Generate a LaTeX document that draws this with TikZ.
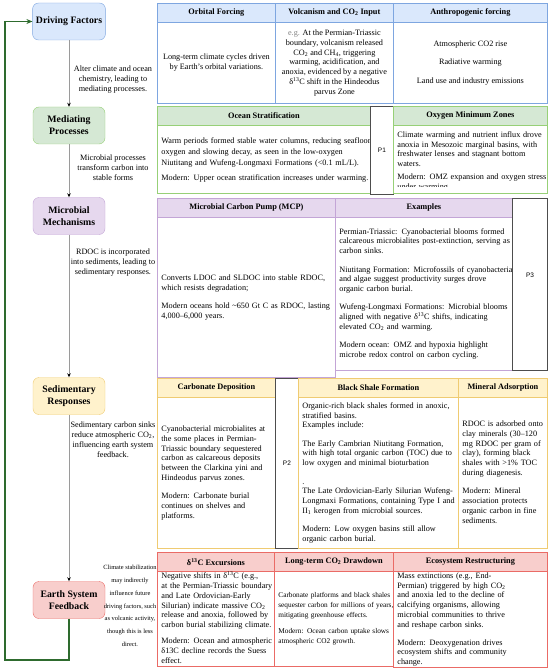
\documentclass[tikz,border=0pt]{standalone}
\usepackage{fontspec}
\setmainfont{Liberation Serif}
\setsansfont{Liberation Sans}
\usetikzlibrary{arrows.meta,positioning}
% colours of the five levels
\definecolor{bluefill}{HTML}{DAE8FC}
\definecolor{blueline}{HTML}{7EA6E0}
\definecolor{greenfill}{HTML}{D5E8D4}
\definecolor{greenline}{HTML}{97D077}
\definecolor{purplefill}{HTML}{E6D8EE}
\definecolor{purpleline}{HTML}{C3A5D6}
\definecolor{yellowfill}{HTML}{FFF2CC}
\definecolor{yellowline}{HTML}{EFCB72}
\definecolor{redfill}{HTML}{F8CECC}
\definecolor{redline}{HTML}{EA6B66}
\definecolor{pline}{HTML}{4D4D4D}
\definecolor{arrowgray}{HTML}{9A9A9A}
\definecolor{loopgreen}{HTML}{2E6B2E}
\newcommand\boxfont{\bfseries\fontsize{9.8}{12}\selectfont}
\newcommand\hdrfont{\bfseries\fontsize{8.3}{10}\selectfont}
\newcommand\cellfont{\fontsize{8.2}{9.8}\selectfont}
\newcommand\lblfont{\fontsize{8.2}{10}\selectfont}
% lines of a cell, kept as typed
\newcommand\cellrows[1]{\noindent\begin{tabular}{@{}l@{}}#1\end{tabular}}
\tikzset{
    %Define style for level boxes
    flowbox/.style={
           rectangle,
           rounded corners=6pt,
           draw=#1line, fill=#1fill,
           minimum width=72pt,
           minimum height=37pt,
           align=center,
           font=\boxfont},
    %Define style for table headers
    hdr/.style={
           rectangle,
           anchor=north west,
           draw=#1line, fill=#1fill, line width=0.8pt,
           minimum height=19pt,
           inner sep=0pt,
           font=\hdrfont},
    %Define style for table cells
    cell/.style={
           rectangle,
           anchor=north west,
           draw=#1line, line width=0.8pt,
           inner xsep=4pt, inner ysep=0pt,
           align=left,
           font=\cellfont},
    pbox/.style={
           rectangle,
           anchor=north west,
           draw=pline, fill=white, line width=0.8pt,
           inner sep=0pt,
           font=\sffamily\fontsize{6.5}{8}\selectfont},
    lbl/.style={
           align=center,
           inner sep=0pt,
           font=\lblfont},
    % Define arrow styles
    flowarrow/.style={
           draw=arrowgray, line width=0.9pt,
           -{Stealth[length=4pt,width=3.5pt,black]}},
    feedback/.style={
           draw=loopgreen, line width=1.5pt,
           -{Stealth[length=6pt,width=5pt]}}
}
\begin{document}
\begin{tikzpicture}[x=1pt,y=-1pt]
\useasboundingbox (0,0) rectangle (550,668);
 %level boxes
\node[flowbox=blue] (df) at (69,21.5) {Driving Factors};
\node[flowbox=green] (mp) at (69,125.5) {Mediating\\Processes};
\node[flowbox=purple] (mm) at (69,216) {Microbial\\Mechanisms};
\node[flowbox=yellow] (sr) at (69,396) {Sedimentary\\Responses};
\node[flowbox=red] (esf) at (69,600) {Earth System\\Feedback};
 %links between levels
\draw[flowarrow] (df) -- (mp);
\draw[flowarrow] (mp) -- (mm);
\draw[flowarrow] (mm) -- (sr);
\draw[flowarrow] (sr) -- (esf);
\coordinate (loopcorner) at (5,660);
\draw[feedback] (esf.south) |- (loopcorner) |- (df.west);
\node[lbl] (l1) at (113,80) {Alter climate and ocean\\chemistry, leading to\\mediating processes.};
\node[lbl] (l2) at (113,168) {Microbial processes\\transform carbon into\\stable forms};
\node[lbl] (l3) at (113,263) {RDOC is incorporated\\into sediments, leading to\\sedimentary responses.};
\node[lbl] (l4) at (113,440) {Sedimentary carbon sinks\\reduce atmospheric CO\textsubscript{2},\\influencing earth system\\feedback.};
\node[lbl, font=\fontsize{6.4}{12.8}\selectfont] (l5) at (130,606) {Climate stabilization\\may indirectly\\influence future\\driving factors, such\\as volcanic activity,\\though this is less\\direct.};
 %driving factors table
\node[hdr=blue, minimum width=118pt] (orbh) at (157,3) {Orbital Forcing};
\node[hdr=blue, minimum width=118pt] (volh) at (275,3) {Volcanism and CO\textsubscript{2} Input};
\node[hdr=blue, minimum width=154pt] (anth) at (393,3) {Anthropogenic forcing};
\node[cell=blue, minimum width=118pt, minimum height=81pt, align=center] (orb) at (157,22)
  {Long-term climate cycles driven\\by Earth's orbital variations.};
\node[cell=blue, minimum width=118pt, minimum height=81pt, align=center] (vol) at (275,22)
  {{\color{gray}e.g.} At the Permian-Triassic\\boundary, volcanism released\\CO\textsubscript{2} and CH\textsubscript{4}, triggering\\warming, acidification, and\\anoxia, evidenced by a negative\\δ\textsuperscript{13}C shift in the Hindeodus\\parvus Zone};
\node[cell=blue, minimum width=154pt, minimum height=81pt, align=center] (ant) at (393,22)
  {Atmospheric CO2 rise\\[8.5pt]Radiative warming\\[8.5pt]Land use and industry emissions};
 %mediating processes tables
\node[hdr=green, minimum width=213pt] (osh) at (157,106) {Ocean Stratification};
\node[cell=green, text width=205pt, minimum height=68pt, font=\fontsize{8.2}{11}\selectfont] (os) at (157,125)
  {\cellrows{Warm periods formed stable water columns, reducing seafloor\\oxygen and slowing decay, as seen in the low-oxygen\\Niutitang and Wufeng-Longmaxi Formations (<0.1 mL/L).\\[4pt]Modern: Upper ocean stratification increases under warming.}};
\node[pbox, minimum width=23pt, minimum height=88pt] (p1) at (370,106) {P1};
\node[hdr=green, minimum width=154pt] (omzh) at (393,106) {Oxygen Minimum Zones};
\node[cell=green, minimum width=154pt, minimum height=68pt] (omz) at (393,125) {};
\begin{scope}
\clip (393,125) rectangle (547,186.5);
\node[cell=green, draw=none, text width=146pt, anchor=north west] (omzt) at (393,130)
  {\cellrows{Climate warming and nutrient influx drove\\anoxia in Mesozoic marginal basins, with\\freshwater lenses and stagnant bottom\\waters.\\[3pt]Modern: OMZ expansion and oxygen stress\\under warming.}};
\end{scope}
 %microbial mechanisms tables
\node[hdr=purple, minimum width=178pt] (mcph) at (157,198) {Microbial Carbon Pump (MCP)};
\node[cell=purple, text width=170pt, minimum height=160pt] (mcp) at (157,217)
  {\cellrows{Converts LDOC and SLDOC into stable RDOC,\\which resists degradation;\\[8.5pt]Modern oceans hold \textasciitilde650 Gt C as RDOC, lasting\\4,000–6,000 years.}};
\node[hdr=purple, minimum width=177pt] (exh) at (335,198) {Examples};
\node[cell=purple, text width=169pt, minimum height=153pt] (ex) at (335,217)
  {\cellrows{Permian-Triassic: Cyanobacterial blooms formed\\calcareous microbialites post-extinction, serving as\\carbon sinks.\\[8.5pt]Niutitang Formation: Microfossils of cyanobacteria\\and algae suggest productivity surges drove\\organic carbon burial.\\[8.5pt]Wufeng-Longmaxi Formations: Microbial blooms\\aligned with negative δ\textsuperscript{13}C shifts, indicating\\elevated CO\textsubscript{2} and warming.\\[8.5pt]Modern ocean: OMZ and hypoxia highlight\\microbe redox control on carbon cycling.}};
\node[pbox, minimum width=35pt, minimum height=172pt] (p3) at (512,198) {};
\node[pbox, draw=none, fill=none, anchor=center] (p3t) at (530,275) {P3};
 %sedimentary responses tables
\node[hdr=yellow, minimum width=118pt] (carbh) at (157,378) {Carbonate Deposition};
\node[cell=yellow, text width=110pt, minimum height=151pt] (carb) at (157,397)
  {\cellrows{Cyanobacterial microbialites at\\the some places in Permian-\\Triassic boundary sequestered\\carbon as calcareous deposits\\between the Clarkina yini and\\Hindeodus parvus zones.\\[8.5pt]Modern: Carbonate burial\\continues on shelves and\\platforms.}};
\node[pbox, minimum width=23pt, minimum height=170pt] (p2) at (275,378) {P2};
\node[hdr=yellow, minimum width=160pt] (bsh) at (298,378) {Black Shale Formation};
\node[cell=yellow, text width=152pt, minimum height=151pt] (bs) at (298,397)
  {\cellrows{Organic-rich black shales formed in anoxic,\\stratified basins.\\Examples include:\\[8.5pt]The Early Cambrian Niutitang Formation,\\with high total organic carbon (TOC) due to\\low oxygen and minimal bioturbation\\[8.5pt].\\The Late Ordovician-Early Silurian Wufeng-\\Longmaxi Formations, containing Type I and\\II\textsubscript{1} kerogen from microbial sources.\\[8.5pt]Modern: Low oxygen basins still allow\\organic carbon burial.}};
\node[hdr=yellow, minimum width=89pt] (minh) at (458,378) {Mineral Adsorption};
\node[cell=yellow, text width=81pt, minimum height=151pt] (min) at (458,397)
  {\cellrows{RDOC is adsorbed onto\\clay minerals (30–120\\mg RDOC per gram of\\clay), forming black\\shales with >1\% TOC\\during diagenesis.\\[8.5pt]Modern: Mineral\\association protects\\organic carbon in fine\\sediments.}};
 %earth system feedback table
\node[hdr=red, minimum width=117pt] (d13h) at (157,552) {δ\textsuperscript{13}C Excursions};
\node[cell=red, text width=109pt, minimum height=95pt] (d13) at (157,571)
  {\cellrows{Negative shifts in δ\textsuperscript{13}C (e.g.,\\at the Permian-Triassic boundary\\and Late Ordovician-Early\\Silurian) indicate massive CO\textsubscript{2}\\release and anoxia, followed by\\carbon burial stabilizing climate.\\[6pt]Modern: Ocean and atmospheric\\δ13C decline records the Suess\\effect.}};
\node[hdr=red, minimum width=119pt] (ltdh) at (274,552) {Long-term CO\textsubscript{2} Drawdown};
\node[cell=red, text width=111pt, minimum height=95pt, font=\fontsize{7.3}{10}\selectfont] (ltd) at (274,571)
  {\cellrows{Carbonate platforms and black shales\\sequester carbon for millions of years,\\mitigating greenhouse effects.\\[6pt]Modern: Ocean carbon uptake slows\\atmospheric CO2 growth.}};
\node[hdr=red, minimum width=154pt] (ecoh) at (393,552) {Ecosystem Restructuring};
\node[cell=red, text width=146pt, minimum height=95pt] (eco) at (393,571)
  {\cellrows{Mass extinctions (e.g., End-\\Permian) triggered by high CO\textsubscript{2}\\and anoxia led to the decline of\\calcifying organisms, allowing\\microbial communities to thrive\\and reshape carbon sinks.\\[8pt]Modern: Deoxygenation drives\\ecosystem shifts and community\\change.}};
\end{tikzpicture}
\end{document}
